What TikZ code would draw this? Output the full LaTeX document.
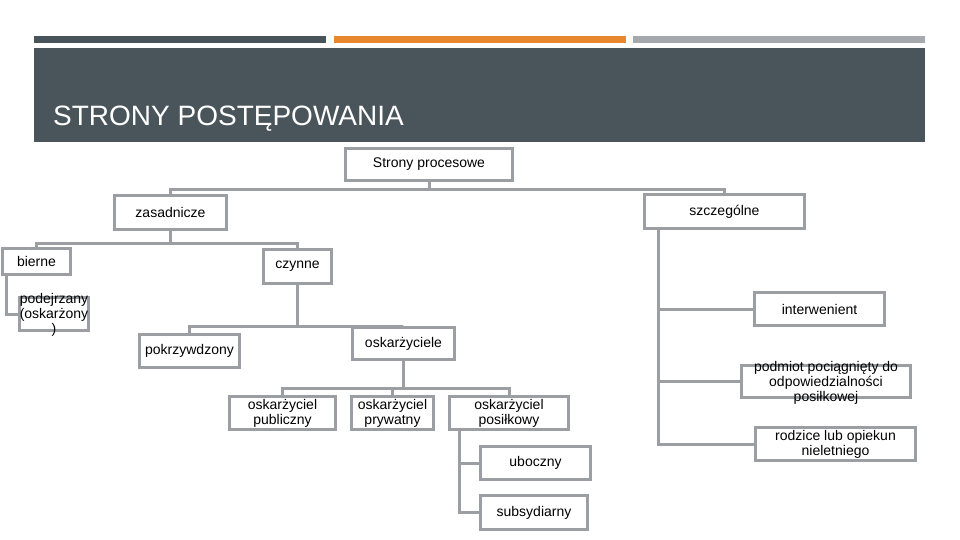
\documentclass[tikz,border=0pt]{standalone}
\usepackage{fontspec}
\setmainfont{Liberation Sans}
\definecolor{band}{RGB}{74,85,91}
\definecolor{darkbar}{RGB}{72,83,90}
\definecolor{orangebar}{RGB}{233,135,46}
\definecolor{greybar}{RGB}{165,169,173}
\definecolor{lc}{RGB}{155,159,163}
\tikzset{
  bx/.style={draw=lc, line width=3pt, fill=white, inner sep=1pt, align=center,
    font=\fontsize{14}{15}\selectfont},
  txt/.style={inner sep=0pt, align=center, font=\fontsize{14}{15}\selectfont},
  conn/.style={draw=lc, line width=3pt}
}
\begin{document}
\begin{tikzpicture}[x=1pt, y=-1pt]
\useasboundingbox (0,0) rectangle (960,540);
% header
\fill[darkbar] (34,36) rectangle (326,43);
\fill[orangebar] (334,36) rectangle (626,43);
\fill[greybar] (633,36) rectangle (925,43);
\fill[band] (34,48) rectangle (925,142);
\node[anchor=base west, inner sep=0pt, text=white, font=\fontsize{28}{30}\selectfont] (title) at (53,126) {STRONY POSTĘPOWANIA};

% boxes
\node[bx, minimum width=167pt, minimum height=32pt] (top) at (429,164.5) {Strony procesowe};
\node[bx, minimum width=112pt, minimum height=34pt] (zas) at (170.5,212.5) {zasadnicze};
\node[bx, minimum width=160pt, minimum height=34pt] (szcz) at (724.5,211.5) {szczególne};
\node[bx, minimum width=68pt, minimum height=26pt] (bierne) at (36.5,261.5) {bierne};
\node[bx, minimum width=68pt, minimum height=34pt] (czynne) at (297.5,266.5) {czynne};
\node[bx, minimum width=69pt, minimum height=33pt] (podej) at (54,314) {};
\node[txt] (podejt) at (54,315) {podejrzany\\(oskarżony\\)};
\node[bx, minimum width=100pt, minimum height=33pt] (pokrz) at (189.5,351) {pokrzywdzony};
\node[bx, minimum width=102pt, minimum height=32pt] (osk) at (403.5,343.5) {oskarżyciele};
\node[bx, minimum width=106pt, minimum height=33pt] (pub) at (282.5,413) {oskarżyciel\\publiczny};
\node[bx, minimum width=82pt, minimum height=33pt] (priv) at (392.5,413) {oskarżyciel\\prywatny};
\node[bx, minimum width=119pt, minimum height=33pt] (pos) at (509,413) {oskarżyciel\\posiłkowy};
\node[bx, minimum width=110pt, minimum height=33pt] (ubo) at (535.5,463) {uboczny};
\node[bx, minimum width=107pt, minimum height=34pt] (sub) at (534,512.5) {subsydiarny};
\node[bx, minimum width=130pt, minimum height=33pt] (int) at (819.5,309) {interwenient};
\node[bx, minimum width=169pt, minimum height=32pt] (pod) at (826,381.5) {};
\node[txt] (podt) at (826,383) {podmiot pociągnięty do\\odpowiedzialności\\posiłkowej};
\node[bx, minimum width=160pt, minimum height=33pt] (rod) at (835.5,444) {rodzice lub opiekun\\nieletniego};

% connectors
\draw[conn] (top.south) -- ++(0,7.5) -| (zas.north);
\draw[conn] (top.south) -- ++(0,7.5) -| (szcz.north);
\draw[conn] (zas.south) -- ++(0,12.5) -| (bierne.north);
\draw[conn] (zas.south) -- ++(0,12.5) -| (czynne.north);
\draw[conn] (bierne.south west) ++(5,0) |- (podej.west);
\draw[conn] (czynne.south) -- ++(0,41.5) -| (pokrz.north);
\draw[conn] (czynne.south) -- ++(0,41.5) -| (osk.north);
\draw[conn] (osk.south) -- ++(0,27.5) -| (pub.north);
\draw[conn] (osk.south) -- ++(0,27.5) -| (priv.north);
\draw[conn] (osk.south) -- ++(0,27.5) -| (pos.north);
\draw[conn] (pos.south west) ++(11.5,0) |- (ubo.west);
\draw[conn] (pos.south west) ++(11.5,0) |- (sub.west);
\draw[conn] (szcz.south west) ++(15.5,0) |- (int.west);
\draw[conn] (szcz.south west) ++(15.5,0) |- (pod.west);
\draw[conn] (szcz.south west) ++(15.5,0) |- (rod.west);
\end{tikzpicture}
\end{document}
